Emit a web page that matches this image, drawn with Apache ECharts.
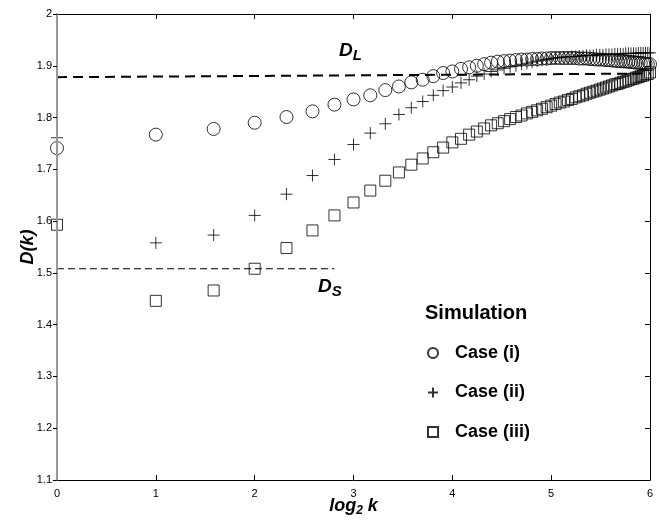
<!DOCTYPE html>
<html>
<head>
<meta charset="utf-8">
<script src="https://cdn.jsdelivr.net/npm/echarts@6/dist/echarts.min.js"></script>
<style>
  html, body { margin: 0; padding: 0; background: #fff; }
  #chart { width: 660px; height: 524px; }
</style>
</head>
<body>
<div id="chart"></div>
<script>
// k = 1..64, plotted on a base-2 log axis (labels show log2 k)
const ks = [1, 2, 3, 4, 5, 6, 7, 8, 9, 10, 11, 12, 13, 14, 15, 16,
  17, 18, 19, 20, 21, 22, 23, 24, 25, 26, 27, 28, 29, 30, 31, 32,
  33, 34, 35, 36, 37, 38, 39, 40, 41, 42, 43, 44, 45, 46, 47, 48,
  49, 50, 51, 52, 53, 54, 55, 56, 57, 58, 59, 60, 61, 62, 63, 64];

const caseI = [1.741, 1.767, 1.778, 1.790, 1.801, 1.812, 1.825, 1.835,
  1.843, 1.853, 1.860, 1.868, 1.873, 1.880, 1.886, 1.889,
  1.894, 1.897, 1.900, 1.903, 1.906, 1.908, 1.909, 1.910,
  1.911, 1.912, 1.912, 1.913, 1.913, 1.914, 1.914, 1.915,
  1.915, 1.915, 1.915, 1.915, 1.915, 1.915, 1.914, 1.914,
  1.914, 1.913, 1.913, 1.912, 1.912, 1.912, 1.911, 1.911,
  1.910, 1.910, 1.909, 1.909, 1.909, 1.908, 1.908, 1.907,
  1.907, 1.906, 1.906, 1.905, 1.905, 1.904, 1.903, 1.903];

const caseII = [1.761, 1.558, 1.573, 1.611, 1.652, 1.688, 1.719, 1.748,
  1.770, 1.788, 1.806, 1.819, 1.831, 1.843, 1.852, 1.859,
  1.867, 1.873, 1.880, 1.884, 1.889, 1.892, 1.895, 1.898,
  1.900, 1.903, 1.905, 1.907, 1.909, 1.911, 1.912, 1.914,
  1.915, 1.916, 1.917, 1.917, 1.918, 1.918, 1.919, 1.919,
  1.920, 1.920, 1.920, 1.921, 1.921, 1.921, 1.922, 1.922,
  1.922, 1.923, 1.923, 1.923, 1.923, 1.924, 1.924, 1.924,
  1.924, 1.924, 1.925, 1.925, 1.925, 1.925, 1.925, 1.925];

const caseIII = [1.593, 1.446, 1.466, 1.508, 1.548, 1.582, 1.611, 1.636,
  1.659, 1.678, 1.694, 1.709, 1.721, 1.733, 1.742, 1.752,
  1.759, 1.767, 1.773, 1.779, 1.785, 1.789, 1.793, 1.797,
  1.801, 1.804, 1.808, 1.811, 1.814, 1.817, 1.820, 1.823,
  1.826, 1.829, 1.831, 1.834, 1.836, 1.839, 1.841, 1.843,
  1.846, 1.848, 1.850, 1.852, 1.854, 1.856, 1.858, 1.860,
  1.862, 1.864, 1.865, 1.867, 1.869, 1.870, 1.872, 1.874,
  1.875, 1.877, 1.878, 1.880, 1.881, 1.883, 1.884, 1.887];

// reference levels: [k, D] end points
const lineDL = [[1, 1.878], [64, 1.885]];
const lineDS = [[1, 1.508], [7, 1.508]];

const yTicks = { min: 1.1, max: 2, interval: 0.1 };

const font = '"Liberation Sans", Arial, Helvetica, sans-serif';
const pair = (ys) => ks.map((k, i) => [k, ys[i]]);
const hollow = { color: 'rgba(0,0,0,0)', borderColor: '#000', borderWidth: 1 };

const chart = echarts.init(document.getElementById('chart'));

chart.setOption({
  backgroundColor: '#fff',
  animation: false,
  grid: { left: 57, right: 10, top: 14, bottom: 44, outerBoundsMode: 'none', containLabel: false },
  xAxis: [
    {
      type: 'log', logBase: 2, min: 1, max: 64,
      name: '{i|log}{s|2}{i| k}',
      nameLocation: 'middle', nameGap: 15, nameMoveOverlap: false,
      nameTextStyle: {
        rich: {
          i: { fontFamily: font, fontSize: 18, fontWeight: 'bold', fontStyle: 'italic', color: '#000' },
          s: { fontFamily: font, fontSize: 12, fontWeight: 'bold', fontStyle: 'italic', color: '#000', padding: [10, 0, 0, 0] }
        }
      },
      axisLine: { lineStyle: { color: '#000', width: 1 } },
      axisTick: { inside: true, length: 5, lineStyle: { color: '#000' } },
      minorTick: { show: false },
      axisLabel: {
        margin: 8, fontFamily: font, fontSize: 11, color: '#000',
        formatter: (v) => String(Math.round(Math.log2(v)))
      },
      splitLine: { show: false }
    },
    {
      type: 'log', logBase: 2, min: 1, max: 64, position: 'top',
      axisLine: { lineStyle: { color: '#000', width: 1 } },
      axisTick: { inside: true, length: 5, lineStyle: { color: '#000' } },
      axisLabel: { show: false },
      splitLine: { show: false }
    }
  ],
  yAxis: [
    {
      type: 'value', min: yTicks.min, max: yTicks.max, interval: yTicks.interval,
      z: 3,
      name: 'D(k)', nameLocation: 'middle', nameGap: 20, nameRotate: 90, nameMoveOverlap: false,
      nameTextStyle: { fontFamily: font, fontSize: 18, fontWeight: 'bold', fontStyle: 'italic', color: '#000' },
      axisLine: { lineStyle: { color: '#999', width: 2 } },
      axisTick: { inside: false, length: 4, lineStyle: { color: '#000' } },
      axisLabel: { margin: 5, fontFamily: font, fontSize: 11, color: '#000' },
      splitLine: { show: false }
    },
    {
      type: 'value', min: yTicks.min, max: yTicks.max, interval: yTicks.interval, position: 'right',
      axisLine: { lineStyle: { color: '#000', width: 1 } },
      axisTick: { inside: true, length: 5, lineStyle: { color: '#000' } },
      axisLabel: { show: false },
      splitLine: { show: false }
    }
  ],
  legend: {
    orient: 'vertical', left: 427, top: 343, padding: 0,
    itemWidth: 10, itemHeight: 10, itemGap: 19.5,
    textStyle: { fontFamily: font, fontSize: 18, fontWeight: 'bold', color: '#000', lineHeight: 20, padding: [0, 0, 0, 12] },
    data: ['Case (i)', 'Case (ii)', 'Case (iii)']
  },
  graphic: [
    {
      type: 'text', left: 425, top: 303,
      style: { text: 'Simulation', font: 'bold 20px ' + font, fill: '#000' }
    },
    {
      type: 'text', left: 339, top: 41,
      style: {
        text: '{d|D}{s|L}',
        rich: {
          d: { font: 'bold italic 19px ' + font, fill: '#000' },
          s: { font: 'bold italic 15px ' + font, fill: '#000', padding: [10, 0, 0, 0] }
        }
      }
    },
    {
      type: 'text', left: 318, top: 277,
      style: {
        text: '{d|D}{s|S}',
        rich: {
          d: { font: 'bold italic 19px ' + font, fill: '#000' },
          s: { font: 'bold italic 15px ' + font, fill: '#000', padding: [10, 0, 0, 0] }
        }
      }
    }
  ],
  series: [
    {
      name: 'D_L', type: 'line', data: lineDL, symbol: 'none', silent: true,
      lineStyle: { color: '#000', width: 2, type: [10, 6] }, z: 1
    },
    {
      name: 'D_S', type: 'line', data: lineDS, symbol: 'none', silent: true,
      lineStyle: { color: '#000', width: 1, type: [7, 4] }, z: 1
    },
    {
      name: 'Case (i)', type: 'scatter', data: pair(caseI),
      symbol: 'circle', symbolSize: 13, itemStyle: hollow
    },
    {
      name: 'Case (ii)', type: 'scatter', data: pair(caseII),
      symbol: 'path://M0,6L12,6M6,0L6,12', symbolSize: 12, itemStyle: hollow
    },
    {
      name: 'Case (iii)', type: 'scatter', data: pair(caseIII),
      symbol: 'rect', symbolSize: 11, itemStyle: hollow
    }
  ]
});
</script>
</body>
</html>
